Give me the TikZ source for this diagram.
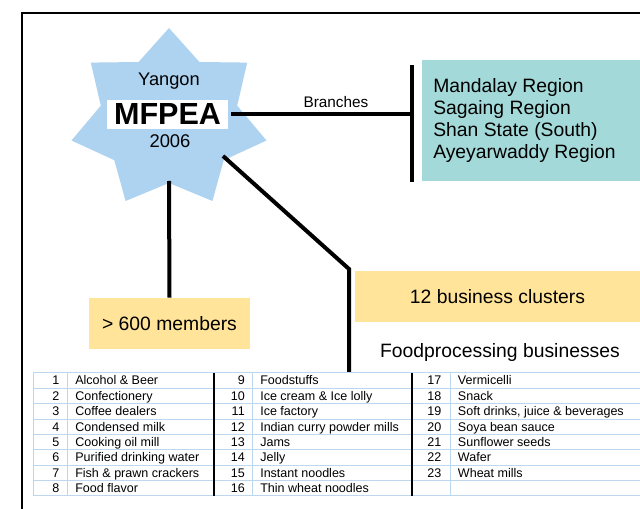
\documentclass[tikz,border=0pt]{standalone}
\usepackage{fontspec}
\setmainfont{Liberation Sans}
\definecolor{starblue}{RGB}{174,211,240}
\definecolor{regionteal}{RGB}{163,217,216}
\definecolor{boxgold}{RGB}{255,228,153}
\definecolor{gridblue}{RGB}{189,215,238}
\begin{document}
\begin{tikzpicture}[x=0.75pt,y=-0.75pt,
  conn/.style={line width=3pt},
  bigtext/.style={font=\fontsize{14.5}{17}\selectfont},
  cell/.style={inner sep=0pt,font=\fontsize{9.4}{11}\selectfont},
  goldbox/.style={fill=boxgold,inner sep=0pt,minimum height=38.25pt,font=\fontsize{14.5}{17}\selectfont},
  grid/.style={gridblue,line width=0.75pt}]
\useasboundingbox (0,0) rectangle (640,509);
% frame
\draw[line width=1.5pt] (22,509) -- (22,13) -- (640,13);
% star
\fill[starblue] (169,28) -- (138.6,62) -- (90.8,62.6) -- (100.8,105.7) -- (71.5,140.5)
  -- (114.3,160.2) -- (125.6,201) -- (169,183) -- (212.4,201) -- (223.7,160.2)
  -- (266.5,140.5) -- (237.2,105.7) -- (247.2,62.6) -- (199.4,62) -- cycle;
\node[anchor=base,inner sep=0pt,font=\fontsize{13.7}{16}\selectfont] (yangon) at (169,86) {Yangon};
\node[fill=white,minimum width=90.75pt,minimum height=21.75pt,inner sep=0pt,
  font=\fontsize{22.9}{26}\selectfont\bfseries] (mfpea) at (167.5,114.5) {MFPEA};
\node[anchor=base,inner sep=0pt,font=\fontsize{13.8}{16}\selectfont] (year) at (170,148) {2006};
% branches
\coordinate (bartop) at (412,65);
\coordinate (barbot) at (412,182);
\draw[conn] (bartop) -- (barbot);
\draw[conn] ([xshift=2.25pt]mfpea.east) -- (mfpea.east -| bartop);
\node[anchor=base,inner sep=0pt,font=\fontsize{11.5}{13}\selectfont] (branches) at (336,108) {Branches};
\node[fill=regionteal,minimum width=163.5pt,minimum height=90.75pt,anchor=north west,inner sep=0pt] (regions) at (422,60) {};
\node[bigtext,anchor=base west,inner sep=0pt] (r1) at (433,92.3) {Mandalay Region};
\node[bigtext,anchor=base west,inner sep=0pt] (r2) at (433,114.8) {Sagaing Region};
\node[bigtext,anchor=base west,inner sep=0pt] (r3) at (433,137) {Shan State (South)};
\node[bigtext,anchor=base west,inner sep=0pt] (r4) at (433,159) {Ayeyarwaddy Region};
% members
\node[goldbox,minimum width=120.75pt] (members) at (169.5,323.5) {> 600 members};
\coordinate (starbot) at (169,181);
\draw[conn] (starbot) -- (members.north);
% clusters
\node[goldbox,minimum width=213.75pt] (clusters) at (497.5,296.5) {12 business clusters};
\node[bigtext,anchor=base,inner sep=0pt] (food) at (500,358) {Foodprocessing businesses};
\coordinate (starlr) at (223,156);
\coordinate (elbow) at (349,269);
\coordinate (tabletop) at (349,373);
\draw[conn] (starlr) -- (elbow) -- (tabletop);
% table grid
\foreach \i in {0,...,8} \draw[grid] (33,{373+15.375*\i}) -- (640,{373+15.375*\i});
\foreach \x in {33,67,252,450} \draw[grid] (\x,373) -- (\x,496);
\foreach \x in {214,412} \draw[line width=1.5pt] (\x,373) -- (\x,496);
% column 1
\foreach \n/\t [count=\k from 0] in {1/Alcohol \& Beer,2/Confectionery,3/Coffee dealers,
  4/Condensed milk,5/Cooking oil mill,6/Purified drinking water,7/Fish \& prawn crackers,8/Food flavor}{
  \node[cell,anchor=base east] (num\n) at (59.5,{385+15.375*\k}) {\n};
  \node[cell,anchor=base west] (item\n) at (75,{385+15.375*\k}) {\t};
}
% column 2
\foreach \n/\t [count=\k from 0] in {9/Foodstuffs,10/Ice cream \& Ice lolly,11/Ice factory,
  12/Indian curry powder mills,13/Jams,14/Jelly,15/Instant noodles,16/Thin wheat noodles}{
  \node[cell,anchor=base east] (num\n) at (245,{385+15.375*\k}) {\n};
  \node[cell,anchor=base west] (item\n) at (260,{385+15.375*\k}) {\t};
}
% column 3
\foreach \n/\t [count=\k from 0] in {17/Vermicelli,18/Snack,19/{Soft drinks, juice \& beverages},
  20/Soya bean sauce,21/Sunflower seeds,22/Wafer,23/Wheat mills}{
  \node[cell,anchor=base east] (num\n) at (441.7,{385+15.375*\k}) {\n};
  \node[cell,anchor=base west] (item\n) at (457.7,{385+15.375*\k}) {\t};
}
\end{tikzpicture}
\end{document}
